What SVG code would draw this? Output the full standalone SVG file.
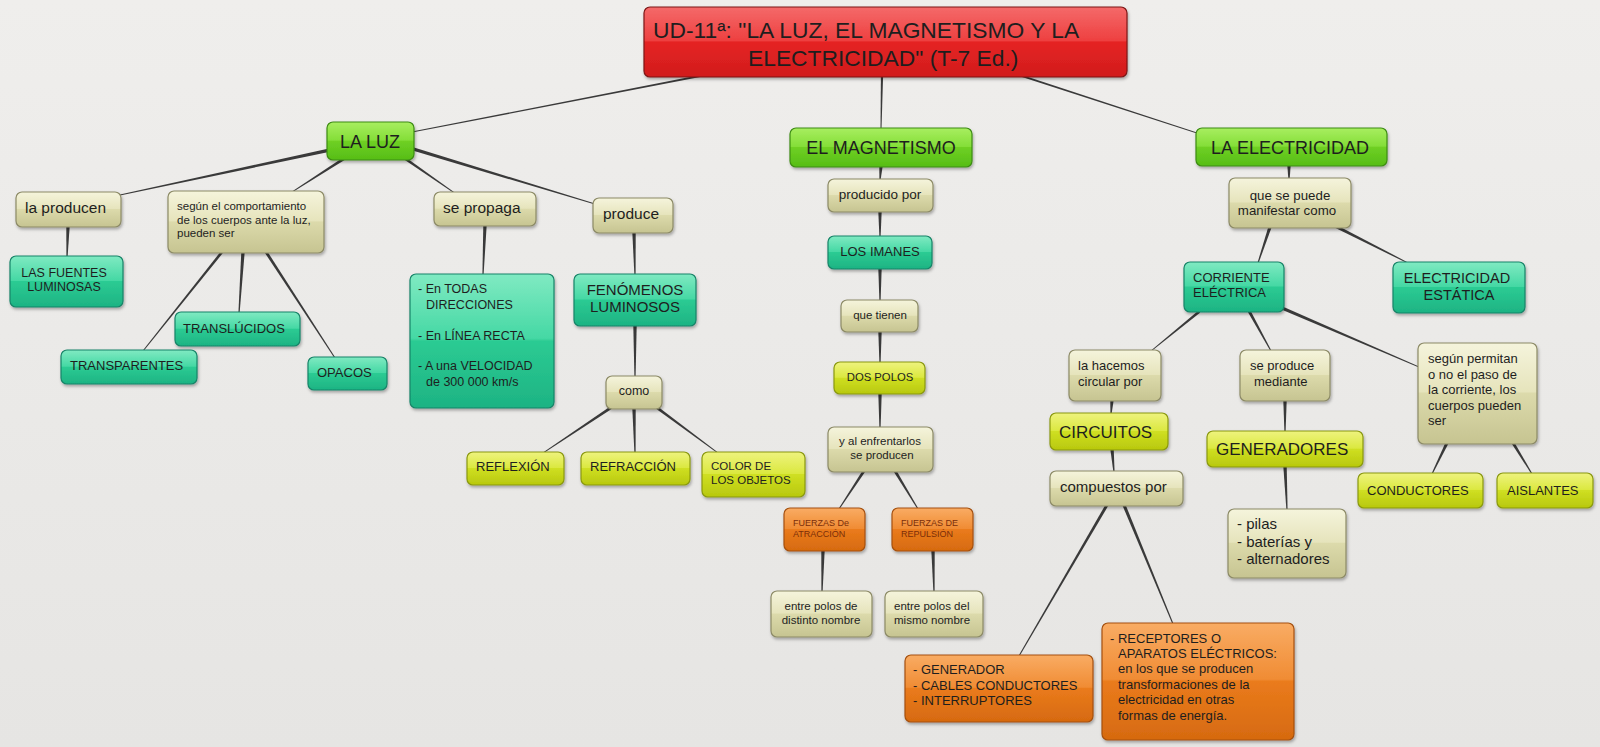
<svg xmlns="http://www.w3.org/2000/svg" width="1600" height="747" viewBox="0 0 1600 747">
<defs>
<linearGradient id="gBg" x1="0" y1="0" x2="0" y2="1"><stop offset="0" stop-color="#efeeec"/><stop offset="1" stop-color="#e6e5e3"/></linearGradient>
<linearGradient id="gRed" x1="0" y1="0" x2="0" y2="1"><stop offset="0" stop-color="#f46a6a"/><stop offset="0.48" stop-color="#ee4040"/><stop offset="0.5" stop-color="#e52424"/><stop offset="1" stop-color="#d11c1c"/></linearGradient>
<linearGradient id="gGreen" x1="0" y1="0" x2="0" y2="1"><stop offset="0" stop-color="#a8ee60"/><stop offset="0.48" stop-color="#84de38"/><stop offset="0.5" stop-color="#6fd024"/><stop offset="1" stop-color="#56bd16"/></linearGradient>
<linearGradient id="gTeal" x1="0" y1="0" x2="0" y2="1"><stop offset="0" stop-color="#80eac2"/><stop offset="0.48" stop-color="#45d8a4"/><stop offset="0.5" stop-color="#2ccb93"/><stop offset="1" stop-color="#1db383"/></linearGradient>
<linearGradient id="gBeige" x1="0" y1="0" x2="0" y2="1"><stop offset="0" stop-color="#f5f4dc"/><stop offset="0.48" stop-color="#e6e4bc"/><stop offset="0.5" stop-color="#dcdaab"/><stop offset="1" stop-color="#c6c491"/></linearGradient>
<linearGradient id="gLime" x1="0" y1="0" x2="0" y2="1"><stop offset="0" stop-color="#eef37e"/><stop offset="0.48" stop-color="#dbe840"/><stop offset="0.5" stop-color="#cfdf22"/><stop offset="1" stop-color="#b8c80e"/></linearGradient>
<linearGradient id="gOrange" x1="0" y1="0" x2="0" y2="1"><stop offset="0" stop-color="#f9ac64"/><stop offset="0.48" stop-color="#f08c34"/><stop offset="0.5" stop-color="#ea7b1c"/><stop offset="1" stop-color="#d66a10"/></linearGradient>
<filter id="sh" x="-10%" y="-10%" width="120%" height="130%"><feDropShadow dx="1" dy="2" stdDeviation="1.5" flood-color="#000" flood-opacity="0.3"/></filter>
<style>
.n{stroke-width:1.2;filter:url(#sh)}
.red{fill:url(#gRed);stroke:#7d1616}
.green{fill:url(#gGreen);stroke:#3d8c12}
.teal{fill:url(#gTeal);stroke:#178468}
.beige{fill:url(#gBeige);stroke:#8c8a66}
.lime{fill:url(#gLime);stroke:#8a980e}
.orange{fill:url(#gOrange);stroke:#a5500f}
text{font-family:"Liberation Sans",Arial,sans-serif;fill:#1e1e1e}
.c{text-anchor:middle}
.br{fill:#7a2e0a}
#connectors polygon{fill:#3a3a3a}
</style>
</defs>
<rect x="0" y="0" width="1600" height="747" fill="url(#gBg)"/>
<g id="connectors">
<polygon points="700,74.9 700,77.1 412,132.5 412,131.5"/>
<polygon points="880.9,76 883.1,76 881.5,129 880.5,129"/>
<polygon points="1022,74.9 1022,77.1 1200,134.5 1200,133.5"/>
<polygon points="330,148.3 330,151.7 120,195.6 120,194.4"/>
<polygon points="345,156.3 345,159.7 292,192.6 292,191.4"/>
<polygon points="400,153.3 400,156.7 456,194.6 456,193.4"/>
<polygon points="410,146.3 410,149.7 595,204.6 595,203.4"/>
<polygon points="66.3,226 69.7,226 67.6,257 66.4,257"/>
<polygon points="220.3,252 223.7,252 143.6,351 142.4,351"/>
<polygon points="241.3,252 244.7,252 239.6,313 238.4,313"/>
<polygon points="264.3,252 267.7,252 335.6,358 334.4,358"/>
<polygon points="483.3,225 486.7,225 483.6,275 482.4,275"/>
<polygon points="632.3,232 635.7,232 635.6,275 634.4,275"/>
<polygon points="633.3,325 636.7,325 635.6,377 634.4,377"/>
<polygon points="612,405.3 612,408.7 543,453.6 543,452.4"/>
<polygon points="632.3,408 635.7,408 635.6,453 634.4,453"/>
<polygon points="656,405.3 656,408.7 718,453.6 718,452.4"/>
<polygon points="879.3,166 882.7,166 880.6,180 879.4,180"/>
<polygon points="878.3,211 881.7,211 880.6,237 879.4,237"/>
<polygon points="878.3,268 881.7,268 880.6,301 879.4,301"/>
<polygon points="878.3,331 881.7,331 880.6,363 879.4,363"/>
<polygon points="878.3,393 881.7,393 880.6,428 879.4,428"/>
<polygon points="862.3,471 865.7,471 839.6,509 838.4,509"/>
<polygon points="893.3,471 896.7,471 918.6,509 917.4,509"/>
<polygon points="821.3,550 824.7,550 822.6,592 821.4,592"/>
<polygon points="931.3,550 934.7,550 934.6,592 933.4,592"/>
<polygon points="1287.3,165 1290.7,165 1289.6,180 1288.4,180"/>
<polygon points="1268.3,227 1271.7,227 1258.6,263 1257.4,263"/>
<polygon points="1335,224.3 1335,227.7 1408,263.6 1408,262.4"/>
<polygon points="1200,309.3 1200,312.7 1151,351.6 1151,350.4"/>
<polygon points="1247.3,311 1250.7,311 1271.6,351 1270.4,351"/>
<polygon points="1282,306.3 1282,309.7 1419,367.6 1419,366.4"/>
<polygon points="1110.3,400 1113.7,400 1111.6,414 1110.4,414"/>
<polygon points="1110.3,449 1113.7,449 1114.6,472 1113.4,472"/>
<polygon points="1283.3,400 1286.7,400 1285.6,432 1284.4,432"/>
<polygon points="1283.3,466 1286.7,466 1287.6,510 1286.4,510"/>
<polygon points="1445.3,443 1448.7,443 1432.6,474 1431.4,474"/>
<polygon points="1511.3,443 1514.7,443 1532.6,474 1531.4,474"/>
<polygon points="1105.3,505 1108.7,505 1019.6,656 1018.4,656"/>
<polygon points="1122.3,505 1125.7,505 1173.6,624 1172.4,624"/>
</g>
<g id="title"><rect class="n red" x="644" y="7" width="483" height="70" rx="6"/><text x="653" y="38" font-size="22.8">UD-11ª: "LA LUZ, EL MAGNETISMO Y LA</text><text x="748" y="66" font-size="22.8">ELECTRICIDAD" (T-7 Ed.)</text></g>
<g id="la-luz"><rect class="n green" x="327" y="122" width="87" height="38" rx="6"/><text class="c" x="370" y="148" font-size="18">LA LUZ</text></g>
<g id="el-magnetismo"><rect class="n green" x="790" y="128" width="182" height="39" rx="6"/><text class="c" x="881" y="154" font-size="18">EL MAGNETISMO</text></g>
<g id="la-electricidad"><rect class="n green" x="1196" y="128" width="191" height="38" rx="6"/><text class="c" x="1290" y="154" font-size="18">LA ELECTRICIDAD</text></g>
<g id="la-producen"><rect class="n beige" x="16" y="192" width="105" height="35" rx="6"/><text x="25" y="213" font-size="15.5">la producen</text></g>
<g id="segun-comportamiento"><rect class="n beige" x="168" y="191" width="156" height="62" rx="6"/><text x="177" y="210" font-size="11.5">según el comportamiento</text><text x="177" y="223.5" font-size="11.5">de los cuerpos ante la luz,</text><text x="177" y="237" font-size="11.5">pueden ser</text></g>
<g id="fuentes"><rect class="n teal" x="10" y="256" width="113" height="51" rx="6"/><text class="c" x="64" y="277" font-size="12.5">LAS FUENTES</text><text class="c" x="64" y="291" font-size="12.5">LUMINOSAS</text></g>
<g id="translucidos"><rect class="n teal" x="175" y="312" width="125" height="34" rx="6"/><text x="183" y="333" font-size="13">TRANSLÚCIDOS</text></g>
<g id="transparentes"><rect class="n teal" x="61" y="350" width="136" height="34" rx="6"/><text x="70" y="370" font-size="13">TRANSPARENTES</text></g>
<g id="opacos"><rect class="n teal" x="308" y="357" width="79" height="33" rx="6"/><text x="317" y="377" font-size="13">OPACOS</text></g>
<g id="se-propaga"><rect class="n beige" x="434" y="192" width="102" height="34" rx="6"/><text x="443" y="213" font-size="15.5">se propaga</text></g>
<g id="produce"><rect class="n beige" x="593" y="198" width="80" height="35" rx="6"/><text x="603" y="219" font-size="15.5">produce</text></g>
<g id="direcciones"><rect class="n teal" x="410" y="274" width="144" height="134" rx="6"/><text x="418" y="293" font-size="12.5">- En TODAS</text><text x="426" y="309" font-size="12.5">DIRECCIONES</text><text x="418" y="340" font-size="12.5">- En LÍNEA RECTA</text><text x="418" y="370" font-size="12.5">- A una VELOCIDAD</text><text x="426" y="386" font-size="12.5">de 300 000 km/s</text></g>
<g id="fenomenos"><rect class="n teal" x="574" y="274" width="122" height="52" rx="6"/><text class="c" x="635" y="295" font-size="15">FENÓMENOS</text><text class="c" x="635" y="312" font-size="15">LUMINOSOS</text></g>
<g id="como"><rect class="n beige" x="606" y="376" width="56" height="33" rx="6"/><text class="c" x="634" y="395" font-size="12.5">como</text></g>
<g id="reflexion"><rect class="n lime" x="467" y="452" width="97" height="33" rx="6"/><text x="476" y="471" font-size="13">REFLEXIÓN</text></g>
<g id="refraccion"><rect class="n lime" x="581" y="452" width="109" height="33" rx="6"/><text x="590" y="471" font-size="13">REFRACCIÓN</text></g>
<g id="color"><rect class="n lime" x="702" y="452" width="103" height="45" rx="6"/><text x="711" y="470" font-size="11.5">COLOR DE</text><text x="711" y="483.5" font-size="11.5">LOS OBJETOS</text></g>
<g id="producido-por"><rect class="n beige" x="828" y="179" width="105" height="33" rx="6"/><text class="c" x="880" y="199" font-size="13.5">producido por</text></g>
<g id="imanes"><rect class="n teal" x="828" y="236" width="104" height="33" rx="6"/><text class="c" x="880" y="256" font-size="13">LOS IMANES</text></g>
<g id="que-tienen"><rect class="n beige" x="841" y="300" width="77" height="32" rx="6"/><text class="c" x="880" y="319" font-size="11.5">que tienen</text></g>
<g id="dos-polos"><rect class="n lime" x="834" y="362" width="91" height="32" rx="6"/><text class="c" x="880" y="381" font-size="11.3">DOS POLOS</text></g>
<g id="enfrentarlos"><rect class="n beige" x="828" y="427" width="105" height="45" rx="6"/><text class="c" x="880" y="445" font-size="11.5">y al enfrentarlos</text><text class="c" x="882" y="458.5" font-size="11.5">se producen</text></g>
<g id="atraccion"><rect class="n orange" x="784" y="508" width="81" height="43" rx="6"/><text class="br" x="793" y="526" font-size="9">FUERZAS De</text><text class="br" x="793" y="537" font-size="9">ATRACCIÓN</text></g>
<g id="repulsion"><rect class="n orange" x="892" y="508" width="81" height="43" rx="6"/><text class="br" x="901" y="526" font-size="9">FUERZAS DE</text><text class="br" x="901" y="537" font-size="9">REPULSIÓN</text></g>
<g id="distinto-nombre"><rect class="n beige" x="771" y="591" width="101" height="46" rx="6"/><text class="c" x="821" y="610" font-size="11.5">entre polos de</text><text class="c" x="821" y="623.5" font-size="11.5">distinto nombre</text></g>
<g id="mismo-nombre"><rect class="n beige" x="885" y="591" width="98" height="46" rx="6"/><text x="894" y="610" font-size="11.5">entre polos del</text><text x="894" y="623.5" font-size="11.5">mismo nombre</text></g>
<g id="manifestar"><rect class="n beige" x="1229" y="178" width="122" height="50" rx="6"/><text class="c" x="1290" y="200" font-size="13.3">que se puede</text><text class="c" x="1287" y="214.5" font-size="13.3">manifestar como</text></g>
<g id="corriente"><rect class="n teal" x="1184" y="262" width="100" height="50" rx="6"/><text x="1193" y="282" font-size="13">CORRIENTE</text><text x="1193" y="297" font-size="13">ELÉCTRICA</text></g>
<g id="estatica"><rect class="n teal" x="1393" y="262" width="132" height="51" rx="6"/><text class="c" x="1457" y="283" font-size="14.5">ELECTRICIDAD</text><text class="c" x="1459" y="300" font-size="14.5">ESTÁTICA</text></g>
<g id="circular"><rect class="n beige" x="1069" y="350" width="92" height="51" rx="6"/><text x="1078" y="370" font-size="13">la hacemos</text><text x="1078" y="386" font-size="13">circular por</text></g>
<g id="se-produce"><rect class="n beige" x="1240" y="350" width="90" height="51" rx="6"/><text x="1250" y="370" font-size="13">se produce</text><text x="1254" y="386" font-size="13">mediante</text></g>
<g id="segun-permitan"><rect class="n beige" x="1418" y="343" width="119" height="101" rx="6"/><text x="1428" y="363" font-size="13">según permitan</text><text x="1428" y="378.5" font-size="13">o no el paso de</text><text x="1428" y="394" font-size="13">la corriente, los</text><text x="1428" y="409.5" font-size="13">cuerpos pueden</text><text x="1428" y="425" font-size="13">ser</text></g>
<g id="circuitos"><rect class="n lime" x="1050" y="413" width="118" height="37" rx="6"/><text x="1059" y="438" font-size="17">CIRCUITOS</text></g>
<g id="generadores"><rect class="n lime" x="1207" y="431" width="156" height="36" rx="6"/><text x="1216" y="455" font-size="17">GENERADORES</text></g>
<g id="compuestos"><rect class="n beige" x="1050" y="471" width="133" height="35" rx="6"/><text x="1060" y="492" font-size="15">compuestos por</text></g>
<g id="conductores"><rect class="n lime" x="1358" y="473" width="125" height="35" rx="6"/><text x="1367" y="495" font-size="13">CONDUCTORES</text></g>
<g id="aislantes"><rect class="n lime" x="1497" y="473" width="96" height="35" rx="6"/><text x="1507" y="495" font-size="13">AISLANTES</text></g>
<g id="pilas"><rect class="n beige" x="1228" y="509" width="118" height="69" rx="6"/><text x="1237" y="529" font-size="15">- pilas</text><text x="1237" y="547" font-size="15">- baterías y</text><text x="1237" y="564" font-size="15">- alternadores</text></g>
<g id="generador"><rect class="n orange" x="905" y="655" width="188" height="67" rx="6"/><text x="913" y="674" font-size="13">- GENERADOR</text><text x="913" y="690" font-size="13">- CABLES CONDUCTORES</text><text x="913" y="705" font-size="13">- INTERRUPTORES</text></g>
<g id="receptores"><rect class="n orange" x="1102" y="623" width="192" height="117" rx="6"/><text x="1110" y="643" font-size="13">- RECEPTORES O</text><text x="1118" y="658" font-size="13">APARATOS ELÉCTRICOS:</text><text x="1118" y="673" font-size="13">en los que se producen</text><text x="1118" y="689" font-size="13">transformaciones de la</text><text x="1118" y="704" font-size="13">electricidad en otras</text><text x="1118" y="720" font-size="13">formas de energía.</text></g>
</svg>
